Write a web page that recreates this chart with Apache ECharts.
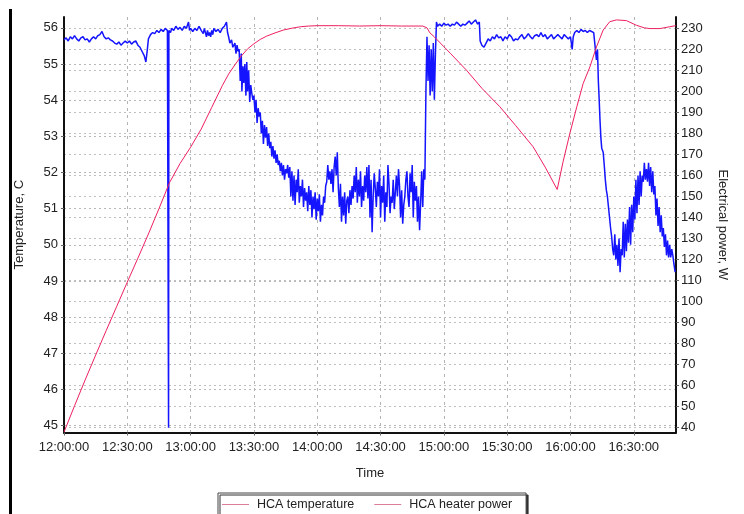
<!DOCTYPE html>
<html>
<head>
<meta charset="utf-8">
<script src="https://cdn.jsdelivr.net/npm/echarts@6/dist/echarts.min.js"></script>
<style>
  html, body { margin: 0; padding: 0; background: #fff; }
  #chart { width: 744px; height: 514px; }
</style>
</head>
<body>
<div id="chart"></div>
<script>
// Time axis: minutes after 12:00:00
const timeLabels = ['12:00:00', '12:30:00', '13:00:00', '13:30:00', '14:00:00',
                    '14:30:00', '15:00:00', '15:30:00', '16:00:00', '16:30:00'];
const temperatureTicks = [45, 46, 47, 48, 49, 50, 51, 52, 53, 54, 55, 56];
const powerTicks = [40, 50, 60, 70, 80, 90, 100, 110, 120, 130, 140, 150, 160,
                    170, 180, 190, 200, 210, 220, 230];
const seriesNames = ['HCA temperature', 'HCA heater power'];

// HCA temperature, C  [minute, value]
const hcaTemperature = [
  [0, 44.82], [5, 45.55], [10, 46.26], [15, 46.95], [20, 47.63], [25, 48.3],
  [30, 48.97], [35, 49.63], [40, 50.3], [45, 51.0], [50, 51.72], [55, 52.25],
  [60, 52.7], [65, 53.2], [70, 53.8], [75, 54.4], [78, 54.72], [81, 54.98],
  [84, 55.22], [87, 55.42], [90, 55.56], [93, 55.68], [96, 55.77], [100, 55.86],
  [104, 55.94], [108, 55.99], [112, 56.03], [116, 56.05], [120, 56.06],
  [130, 56.06], [140, 56.05], [150, 56.06], [160, 56.05], [170, 56.05],
  [172, 56.0], [173.4, 55.86], [175.5, 55.75], [183, 55.3], [190.7, 54.83],
  [198, 54.33], [206.5, 53.82], [214, 53.3], [222.3, 52.71], [228, 52.15],
  [233.7, 51.53], [236.5, 52.3], [239.7, 53.08], [243, 53.82], [246, 54.46],
  [249.2, 54.92], [252.3, 55.47], [255.5, 55.94], [258.6, 56.17], [261.8, 56.22],
  [266.5, 56.2], [271.3, 56.07], [275, 56.0], [277.6, 55.98], [282.4, 55.98],
  [287, 56.03], [289.9, 56.06]
];

// HCA heater power, W  [minute, value]
const heaterPower = [
  [0, 224.5], [1, 225.5], [2, 224], [3, 226], [4, 225], [5, 226.5], [6, 225],
  [7, 224], [8, 225.5], [9, 226], [10, 224.5], [11, 225], [12, 223.5], [13, 225],
  [14, 226], [15, 225], [16, 226.5], [17, 227], [18, 228.5], [19, 226], [20, 225],
  [21, 225.5], [22, 224.5], [23, 224], [24, 223], [25, 222.5], [26, 223.5],
  [27, 222], [28, 223], [29, 224], [30, 223], [31, 224], [32, 222.5], [33, 223.5],
  [34, 224], [35, 222], [36, 221], [37, 219], [38, 217], [38.8, 214], [39.5, 220],
  [40, 225], [41, 227], [42, 228], [43, 227.5], [44, 229], [45, 228], [46, 229.5],
  [47, 228.5], [48, 230], [49, 229], [49.4, 229], [49.55, 40], [49.7, 229],
  [50.5, 228], [51, 230], [52, 229], [53, 231], [54, 229.5], [55, 230.5],
  [56, 229], [57, 231], [58, 230], [59, 233], [59.5, 229], [60, 230], [61, 228.5],
  [62, 230], [63, 229], [64, 231], [65, 229], [66, 227.5], [66.5, 230], [67, 228],
  [67.5, 226], [68, 229], [68.5, 226.5], [69, 228], [69.5, 226], [70, 229],
  [70.5, 227], [71, 230], [72, 228.5], [73, 229.5], [74, 228], [75, 230],
  [76, 231], [77, 233], [77.5, 228],
  [78, 226], [78.6, 223], [79.4, 224.5], [80, 221], [81, 223], [81.5, 218],
  [82, 222], [82.5, 219], [83, 220], [83.5, 205], [84, 218], [84.3, 200],
  [84.8, 212], [85.2, 204], [85.7, 213], [86.2, 198], [86.6, 214], [87, 200],
  [87.5, 210], [88, 195], [88.5, 203], [89, 199], [89.5, 196], [90, 198],
  [90.5, 190], [91, 196], [91.5, 185], [92, 192], [92.5, 188], [93, 190],
  [93.5, 180], [94, 186], [94.5, 175], [95, 184], [95.5, 178], [96, 183],
  [96.5, 174], [97, 180], [97.5, 173], [98, 176], [98.5, 169], [99, 174],
  [99.5, 168], [100, 172], [100.5, 166], [101, 170], [101.5, 165], [102, 167],
  [102.5, 162], [103, 166], [103.5, 160], [104, 165], [104.5, 158], [105, 163],
  [105.5, 161], [106, 165], [106.5, 159], [107, 164], [107.5, 150], [108, 162],
  [108.5, 148], [109, 160], [109.5, 146], [110, 158], [110.5, 152], [111, 163],
  [111.5, 147], [112, 155], [112.5, 150], [113, 158], [113.5, 145], [114, 154],
  [114.5, 148], [115, 152], [115.5, 143], [116, 155], [116.5, 146], [117, 153],
  [117.5, 140], [118, 150], [118.5, 144], [119, 152], [119.5, 139], [120, 149],
  [120.5, 143], [121, 151], [121.5, 138], [122, 146], [122.5, 141], [123, 150],
  [123.5, 147], [124, 155], [124.5, 157], [125, 165], [125.5, 158], [126, 162],
  [126.5, 156], [127, 163], [127.5, 152], [128, 164], [128.5, 169], [129, 160],
  [129.5, 171], [130, 154], [130.5, 145], [131, 156], [131.5, 138], [132, 150],
  [132.5, 141], [133, 152], [133.5, 137], [134, 148], [134.5, 150], [135, 142],
  [135.5, 153], [136, 146], [136.5, 155], [137, 149], [137.5, 160], [138, 152],
  [138.5, 164], [139, 147], [139.5, 158], [140, 150], [140.5, 162], [141, 145],
  [141.5, 155], [142, 148], [142.5, 160], [143, 152], [143.5, 164], [144, 149],
  [144.5, 165], [145, 140], [145.5, 158], [146, 133], [146.5, 150], [147, 161],
  [147.5, 154], [148, 145], [148.5, 157], [149, 150], [149.5, 163], [150, 140],
  [150.5, 155], [151, 147], [151.5, 160], [152, 138], [152.5, 152], [153, 145],
  [153.5, 165], [154, 156], [154.5, 142], [155, 150], [155.5, 147], [156, 158],
  [156.5, 144], [157, 152], [157.5, 160], [158, 150], [158.5, 163], [159, 155],
  [159.5, 140], [160, 153], [160.5, 137], [161, 146], [161.5, 150], [162, 158],
  [162.5, 162], [163, 150], [163.5, 145], [164, 161], [164.5, 152], [165, 165],
  [165.5, 140], [166, 157], [166.5, 148], [167, 155], [167.5, 138], [168, 150],
  [168.5, 134], [169, 147], [169.5, 162], [170, 145], [170.5, 163], [171, 158],
  [171.5, 200], [172, 226], [172.5, 205], [173, 222], [173.5, 198], [174, 220],
  [174.5, 200], [175, 223], [175.5, 196], [176, 218], [176.5, 233], [177, 231],
  [178, 232], [179, 231], [180, 232.5], [181, 231.5], [182, 232], [183, 231],
  [184, 232], [185, 231.5], [186, 233], [187, 232], [188, 231], [189, 232],
  [190, 231.5], [191, 232.5], [192, 233.5], [193, 232], [194, 233], [195, 234],
  [196, 232], [196.8, 233],
  [197.2, 224], [198, 222], [199, 221], [200, 223], [201, 225], [202, 224],
  [203, 226], [204, 225], [205, 227], [206, 225.5], [207, 226], [208, 224],
  [209, 226], [210, 225], [211, 227], [212, 226], [213, 224], [214, 225],
  [215, 224.5], [216, 226], [217, 227], [218, 225], [219, 226], [220, 227.5],
  [221, 226], [222, 225], [223, 226.5], [224, 227], [225, 226], [226, 228],
  [227, 226], [228, 227], [229, 225], [230, 226], [231, 227], [232, 225],
  [233, 226], [234, 227], [235, 226], [236, 225], [237, 227], [238, 226],
  [239, 225], [240, 226], [240.8, 220], [241.3, 226], [242, 228], [243, 229],
  [244, 228], [245, 229.5], [246, 228.5], [247, 229], [248, 228], [249, 229],
  [250, 228.5], [251, 228], [251.8, 228],
  [252.3, 215], [252.8, 220], [253.2, 205], [253.6, 196], [254, 186],
  [254.4, 178], [254.8, 173], [255.5, 171], [256, 165], [256.5, 158], [257, 153],
  [257.5, 150], [258, 145], [258.5, 140], [259, 135], [259.5, 131], [260, 125],
  [260.5, 122], [261, 132], [261.5, 120], [262, 127], [262.5, 117], [263, 130],
  [263.5, 114], [264, 125], [264.5, 122], [265, 138], [265.5, 121], [266, 137],
  [266.5, 124], [267, 139], [267.5, 128], [268, 145], [268.5, 127], [269, 146],
  [269.5, 133], [270, 150], [270.5, 139], [271, 158], [271.5, 142], [272, 160],
  [272.5, 146], [273, 162], [273.5, 150], [274, 160], [274.5, 157], [275, 166],
  [275.5, 158], [276, 163], [276.5, 157], [277, 166], [277.5, 155], [278, 164],
  [278.5, 152], [279, 162], [279.5, 151], [280, 155], [280.5, 141], [281, 149],
  [281.5, 136], [282, 145], [282.5, 133], [283, 141], [283.5, 131], [284, 135],
  [284.5, 126], [285, 132], [285.5, 122], [286, 129], [286.5, 121], [287, 127],
  [287.5, 121], [288, 125], [288.5, 122], [289, 118], [289.6, 114]
];

const font = '"Liberation Sans", Arial, sans-serif';
const textColor = '#222';

const chart = echarts.init(document.getElementById('chart'), null, { renderer: 'canvas' });

chart.setOption({
  animation: false,
  backgroundColor: '#fff',
  textStyle: { fontFamily: font },
  grid: { left: 64, right: 68, top: 17, bottom: 81.5, containLabel: false },
  graphic: [{
    type: 'rect',
    shape: { x: 9, y: 9, width: 3, height: 510 },
    style: { fill: '#000' },
    silent: true
  }],
  legend: {
    left: 218,
    top: 493,
    orient: 'horizontal',
    padding: [5, 14, 5, 4],
    itemGap: 20,
    itemWidth: 27,
    itemHeight: 14,
    backgroundColor: '#fff',
    borderColor: '#444',
    borderWidth: 1,
    borderRadius: 0,
    shadowColor: '#333',
    shadowOffsetX: 2,
    shadowOffsetY: 2,
    shadowBlur: 0,
    textStyle: { fontFamily: font, fontSize: 12.5, color: textColor, padding: [0, 0, 0, 3] },
    data: seriesNames.map(n => ({
      name: n,
      icon: 'path://M0,0 L30,0 L30,1 L0,1 Z',
      itemStyle: { color: '#d8708c' },
      lineStyle: { color: '#d8708c', width: 1 }
    }))
  },
  xAxis: {
    type: 'value',
    min: 0,
    max: 290,
    interval: 30,
    name: 'Time',
    nameLocation: 'middle',
    nameGap: 34,
    nameTextStyle: { fontFamily: font, fontSize: 13, color: textColor },
    axisLine: { show: true, lineStyle: { color: '#111', width: 2 } },
    axisTick: { show: true, length: 3, lineStyle: { color: '#666' } },
    axisLabel: {
      showMaxLabel: false,
      margin: 8,
      fontFamily: font, fontSize: 13, color: textColor,
      formatter: v => timeLabels[Math.round(v / 30)] || ''
    },
    splitLine: { show: true, lineStyle: { color: '#b4b4b4', type: [3, 4], width: 1 } }
  },
  yAxis: [{
    type: 'value',
    position: 'left',
    min: 44.81,
    max: 56.3,
    name: 'Temperature, C',
    nameLocation: 'middle',
    nameGap: 38,
    nameTextStyle: { fontFamily: font, fontSize: 13, color: textColor },
    axisLine: { show: true, lineStyle: { color: '#111', width: 2 } },
    axisTick: { show: true, length: 3, customValues: temperatureTicks, lineStyle: { color: '#666' } },
    axisLabel: {
      customValues: temperatureTicks,
      margin: 6,
      fontFamily: font, fontSize: 13, color: textColor
    },
    splitLine: { show: true, lineStyle: { color: '#b8b8b8', type: [2, 3], width: 1 } }
  }, {
    type: 'value',
    position: 'right',
    min: 37.7,
    max: 235.4,
    name: 'Electrical power, W',
    nameLocation: 'middle',
    nameGap: 40,
    nameRotate: -90,
    nameTextStyle: { fontFamily: font, fontSize: 13, color: textColor },
    axisLine: { show: true, lineStyle: { color: '#111', width: 2 } },
    axisTick: { show: true, length: 3, customValues: powerTicks, lineStyle: { color: '#666' } },
    axisLabel: {
      customValues: powerTicks,
      margin: 5,
      fontFamily: font, fontSize: 13, color: textColor
    },
    splitLine: { show: true, lineStyle: { color: '#c0c0c0', type: [2, 3], width: 1 } }
  }],
  series: [{
    name: seriesNames[0],
    type: 'line',
    yAxisIndex: 0,
    data: hcaTemperature,
    symbol: 'none',
    smooth: false,
    clip: false,
    z: 4,
    lineStyle: { color: '#ee2060', width: 1 }
  }, {
    name: seriesNames[1],
    type: 'line',
    yAxisIndex: 1,
    data: heaterPower,
    symbol: 'none',
    clip: false,
    z: 3,
    lineStyle: { color: '#1414ff', width: 1.5 }
  }]
});
</script>
</body>
</html>
